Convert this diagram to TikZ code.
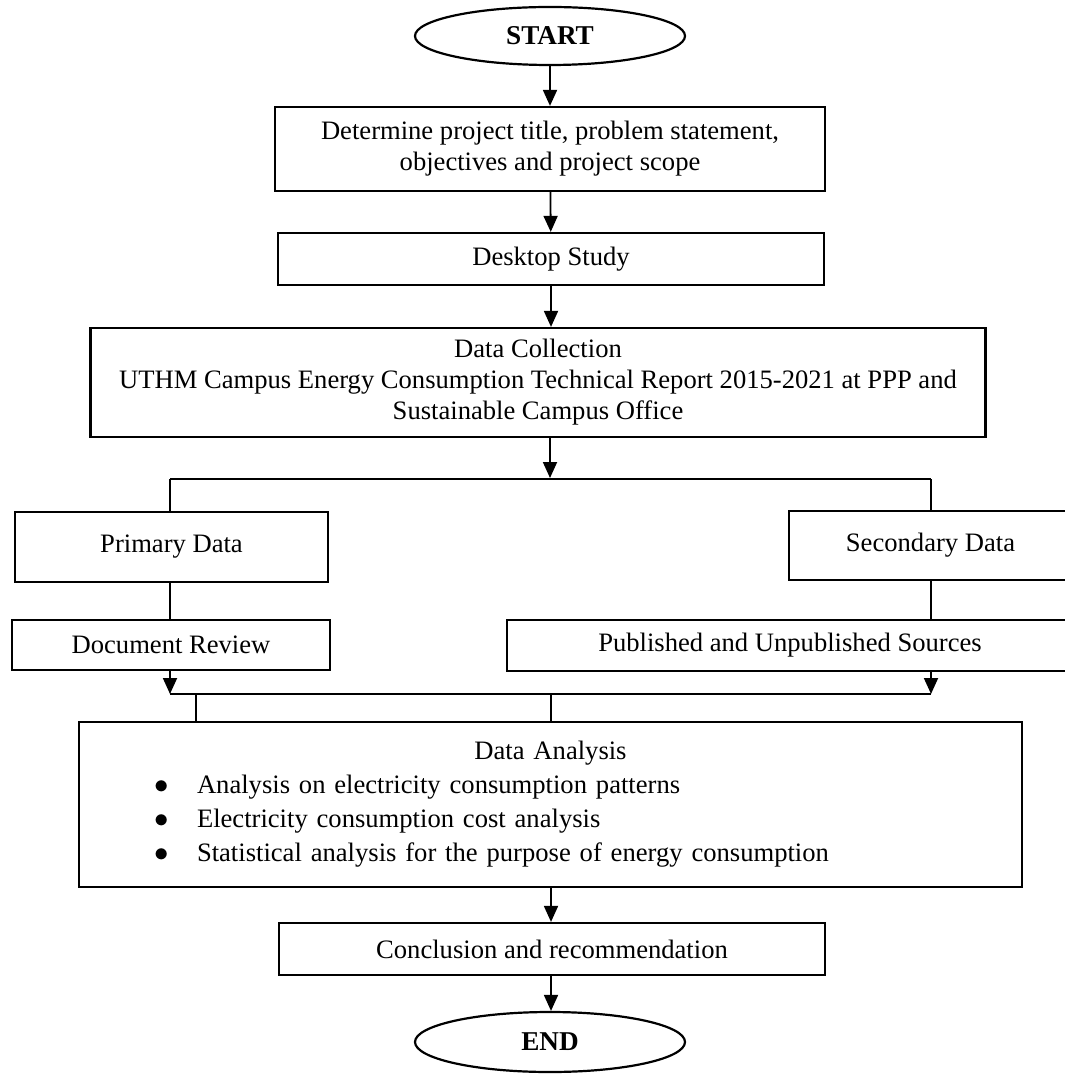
\documentclass[tikz,border=0pt]{standalone}
\usepackage{fontspec}
\setmainfont{Liberation Serif}
\usetikzlibrary{arrows.meta,shapes.geometric}

\newcommand{\itembullet}{\hspace*{37.5pt}\makebox[21.5pt][l]{$\bullet$}}

\begin{document}
\begin{tikzpicture}[x=0.5pt,y=-0.5pt,line width=0.9pt,>={Triangle[length=8pt,width=7pt]},
  font=\fontsize{13.3}{15.5}\selectfont,
  box/.style={draw,line width=1.1pt,align=center,inner sep=0pt},
  term/.style={draw,ellipse,line width=1.1pt,inner sep=0pt,minimum width=135pt,font=\fontsize{13.6}{15.5}\selectfont\bfseries},
  joinline/.style={line width=0.75pt}]
  \useasboundingbox (0,0) rectangle (1064,1074);
  % start, title, desktop study, data collection
  \node[term,minimum height=29pt] (start) at (550,36) {START};
  \node[box,minimum width=275pt,minimum height=42pt] (title) at (550,149)
    {Determine project title, problem statement,\\objectives and project scope};
  \node[box,minimum width=273pt,minimum height=26pt] (desk) at (551,259) {Desktop Study};
  \node[box,minimum width=447.5pt,minimum height=54.5pt] (collect) at (538,382.5)
    {Data Collection\\UTHM Campus Energy Consumption Technical Report 2015-2021 at PPP and\\Sustainable Campus Office};
  % primary / secondary branches
  \node[box,minimum width=156.5pt,minimum height=35pt] (primary) at (171.5,547) {Primary Data};
  \node[box,minimum width=141.5pt,minimum height=34.5pt] (secondary) at (930.5,545.5) {Secondary Data};
  \node[box,minimum width=159pt,minimum height=25pt] (docrev) at (171,645) {Document Review};
  \node[box,minimum width=283pt,minimum height=25.5pt] (published) at (790,645.5) {Published and Unpublished Sources};
  % data analysis, conclusion, end
  \node[box,minimum width=471.5pt,minimum height=82.5pt,text width=471.5pt,align=left,
    font=\fontsize{13.3}{17}\selectfont] (analysis) at (550.5,804.5)
    {\makebox[\linewidth][c]{Data Analysis}\\
     \itembullet Analysis on electricity consumption patterns\\
     \itembullet Electricity consumption cost analysis\\
     \itembullet Statistical analysis for the purpose of energy consumption};
  \node[box,minimum width=273pt,minimum height=26pt] (concl) at (552,949) {Conclusion and recommendation};
  \node[term,minimum height=30pt] (stop) at (550,1042) {END};
  % junction points
  \coordinate (split) at (550,478);
  \coordinate (splitL) at (170,479);
  \coordinate (splitR) at (931,479);
  \coordinate (mergeL) at (170,694);
  \coordinate (mergeR) at (931,694);
  \coordinate (dropA) at (196,694);
  \coordinate (dropB) at (551,694);
  % connectors
  \draw[->] (start) -- (title);
  \draw[->] (title) -- (desk);
  \draw[->] (desk) -- (desk |- collect.north);
  \draw[->] (collect.south -| split) -- (split);
  \draw (splitL) -- (splitR);
  \draw[joinline] (splitL) -- (splitL |- primary.north);
  \draw[joinline] (splitR) -- (splitR |- secondary.north);
  \draw[joinline] (primary.south -| splitL) -- (splitL |- docrev.north);
  \draw[joinline] (secondary.south -| splitR) -- (splitR |- published.north);
  \draw[->] (docrev.south -| mergeL) -- (mergeL);
  \draw[->] (published.south -| mergeR) -- (mergeR);
  \draw (mergeL) -- (mergeR);
  \draw[joinline] (dropA) -- (dropA |- analysis.north);
  \draw[joinline] (dropB) -- (dropB |- analysis.north);
  \draw[->] (analysis.south -| dropB) -- (dropB |- concl.north);
  \draw[->] (concl.south -| dropB) -- (dropB |- stop.north);
\end{tikzpicture}
\end{document}
